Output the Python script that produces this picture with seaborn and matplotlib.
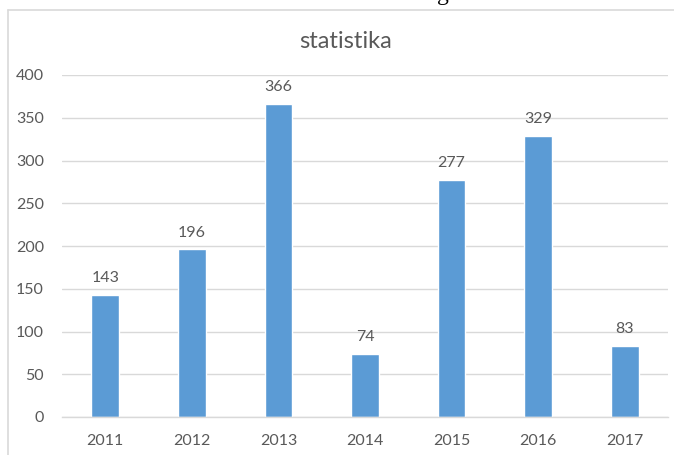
import matplotlib
matplotlib.use("Agg")
import matplotlib.pyplot as plt
import pandas as pd
import seaborn as sns
from matplotlib.lines import Line2D

# chart data
years = ["2011", "2012", "2013", "2014", "2015", "2016", "2017"]
counts = [143, 196, 366, 74, 277, 329, 83]
y_ticks = [0, 50, 100, 150, 200, 250, 300, 350, 400]

df = pd.DataFrame({"year": years, "count": counts})

sns.set_theme(style="white")
plt.rcParams["font.family"] = ["Lato", "DejaVu Sans"]

text_col = "#595959"
grid_col = "#D9D9D9"
bar_col = "#5B9BD5"

fig = plt.figure(figsize=(6.74, 4.55), dpi=100)
ax = fig.add_axes([62 / 674, 1 - 417 / 455, (668 - 62) / 674, (417 - 75) / 455])

sns.barplot(data=df, x="year", y="count", color=bar_col, width=0.32,
            saturation=1, ax=ax)

ax.set_ylim(0, 400)
ax.set_yticks(y_ticks)
ax.yaxis.grid(True, color=grid_col, linewidth=1)
ax.set_axisbelow(True)
for side in ["top", "right", "left"]:
    ax.spines[side].set_visible(False)
ax.spines["bottom"].set_color(grid_col)
ax.spines["bottom"].set_linewidth(1)
ax.tick_params(axis="both", length=0, labelsize=11.5, colors=text_col)
ax.tick_params(axis="x", pad=12)
ax.tick_params(axis="y", pad=13)
ax.set_xlabel("")
ax.set_ylabel("")

# value labels on top of the bars
ax.bar_label(ax.containers[0], labels=[str(c) for c in counts],
             padding=7, fontsize=11.5, color=text_col)

# title, centred on the whole chart area
fig.text(346 / 674, 1 - 41 / 455, "statistika", fontsize=17, color=text_col,
         ha="center", va="center")

# chart frame (left and top border)
fig.add_artist(Line2D([8 / 674, 8 / 674], [0, 1 - 10 / 455],
                      transform=fig.transFigure, color=grid_col, lw=1.2))
fig.add_artist(Line2D([8 / 674, 1], [1 - 10 / 455, 1 - 10 / 455],
                      transform=fig.transFigure, color=grid_col, lw=1.2))

# cut-off letter from the document above the chart
fig.text(443 / 674, 1.0, "g", fontsize=17, family="Liberation Serif",
         color="black", ha="center", va="baseline")

fig.savefig("out.png", dpi=100)
